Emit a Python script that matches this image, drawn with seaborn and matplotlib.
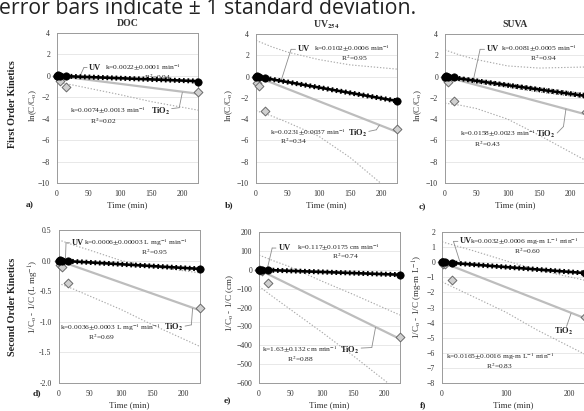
import numpy as np
import pandas as pd
import matplotlib
matplotlib.use("Agg")
import matplotlib.pyplot as plt
import seaborn as sns

# ---------------- data ----------------
t_uv = [0, 2, 5, 15, 225]
t_tio2 = [0, 2, 5, 15, 225]
fit_t = [0, 225]
band_t = [0, 25, 50, 100, 150, 225]

# First order kinetics  ln(C/Co)
fo_doc_uv = [0.0, 0.05, 0.02, -0.05, -0.55]
fo_doc_tio2 = [0.0, -0.1, -0.45, -1.0, -1.55]
fo_uv254_uv = [0.0, 0.05, 0.0, -0.1, -2.3]
fo_uv254_tio2 = [0.0, -0.6, -0.9, -3.2, -4.9]
fo_suva_uv = [0.0, 0.05, 0.0, -0.05, -1.75]
fo_suva_tio2 = [0.0, -0.2, -0.5, -2.25, -3.35]
fo_k_uv = [0.0022, 0.0102, 0.0081]
fo_k_tio2 = [0.0074, 0.0231, 0.0158]

# Second order kinetics  1/Co - 1/C
so_doc_uv = [0.0, 0.01, 0.0, -0.01, -0.13]
so_doc_tio2 = [0.0, -0.07, -0.1, -0.37, -0.78]
so_uv254_uv = [0.0, 0.0, 0.0, 0.0, -26.0]
so_uv254_tio2 = [0.0, -3.0, -5.0, -70.0, -355.0]
so_suva_uv = [0.0, 0.0, 0.0, -0.05, -0.72]
so_suva_tio2 = [0.0, -0.1, -0.15, -1.15, -3.6]
so_k_uv = [0.0006, 0.117, 0.0032]
so_k_tio2 = [0.0036, 1.63, 0.0165]

# dotted confidence bands (TiO2 fits)
band_a_up = None
band_a_lo = [-0.6, -0.85, -1.15, -1.75, -2.4, -3.2]
band_b_up = [3.4, 2.8, 2.3, 1.6, 1.1, 0.7]
band_b_lo = [-3.2, -3.7, -4.3, -5.6, -7.6, -11.3]
band_c_up = [2.5, 2.0, 1.6, 1.0, 0.8, 0.9]
band_c_lo = [-2.5, -2.7, -3.0, -4.0, -5.5, -7.9]
band_d_up = [0.34, 0.25, 0.17, 0.0, -0.1, -0.2]
band_d_lo = [-0.37, -0.47, -0.58, -0.8, -1.05, -1.4]
band_e_up = [78, 45, 15, -60, -130, -240]
band_e_lo = [-88, -150, -210, -330, -455, -650]
band_f_up = [1.35, 1.05, 0.75, 0.1, -0.5, -1.2]
band_f_lo = [-1.3, -1.8, -2.3, -3.3, -4.5, -6.1]
# UV-fit bands (panel c)
uvband_c_up = [0.15, -0.05, -0.25, -0.65, -1.05, -1.6]
uvband_c_lo = [-0.2, -0.4, -0.6, -1.0, -1.45, -2.0]

col_titles = ["DOC", r"UV$_{\mathbf{254}}$", "SUVA"]
row_titles = ["First Order Kinetics", "Second Order Kinetics"]
ylabels = [r"ln(C/C$_{\mathrm{o}}$)", r"ln(C/C$_{\mathrm{o}}$)", r"ln(C/C$_{\mathrm{o}}$)",
           r"1/C$_{\mathrm{o}}$ - 1/C (L mg$^{-1}$)", r"1/C$_{\mathrm{o}}$ - 1/C (cm)",
           r"1/C$_{\mathrm{o}}$ - 1/C (mg-m L$^{-1}$)"]
uv_k_texts = [r"k=0.0022$\pm$0.0001 min$^{-1}$", r"k=0.0102$\pm$0.0006 min$^{-1}$",
              r"k=0.0081$\pm$0.0005 min$^{-1}$",
              r"k=0.0006$\pm$0.00003 L mg$^{-1}$ min$^{-1}$",
              r"k=0.117$\pm$0.0175 cm min$^{-1}$",
              r"k=0.0032$\pm$0.0006 mg-m L$^{-1}$ min$^{-1}$"]
uv_r2 = ["R$^2$=0.94", "R$^2$=0.95", "R$^2$=0.94", "R$^2$=0.95", "R$^2$=0.74", "R$^2$=0.60"]
tio_k_texts = [r"k=0.0074$\pm$0.0013 min$^{-1}$", r"k=0.0231$\pm$0.0037 min$^{-1}$",
               r"k=0.0158$\pm$0.0023 min$^{-1}$",
               r"k=0.0036$\pm$0.0003 L mg$^{-1}$ min$^{-1}$",
               r"k=1.63$\pm$0.132 cm min$^{-1}$",
               r"k=0.0165$\pm$0.0016 mg-m L$^{-1}$ min$^{-1}$"]
tio_r2 = ["R$^2$=0.02", "R$^2$=0.34", "R$^2$=0.43", "R$^2$=0.69", "R$^2$=0.88", "R$^2$=0.83"]
letters = ["a)", "b)", "c)", "d)", "e)", "f)"]

# ---------------- style ----------------
sns.set_theme(style="white")
plt.rcParams["font.family"] = ["Liberation Serif", "DejaVu Serif"]
plt.rcParams["mathtext.fontset"] = "stix"

W, H = 584, 411
fig = plt.figure(figsize=(W / 100, H / 100), dpi=100)


def px(x, y):
    return x / W, 1 - y / H


def rect(l, t, r, b):
    return [l / W, 1 - b / H, (r - l) / W, (b - t) / H]


GREY_LINE = "#bdbdbd"
BAND = "#a9a9a9"

panels = [
    dict(rect=rect(57, 33, 198, 183), ylim=(-10, 4), yticks=np.arange(-10, 5, 2),
         uv=fo_doc_uv, tio=fo_doc_tio2, kuv=fo_k_uv[0], ktio=fo_k_tio2[0],
         up=band_a_up, lo=band_a_lo, uvup=None, uvlo=None, xticks=[0, 50, 100, 150, 200]),
    dict(rect=rect(256, 34, 397, 183), ylim=(-10, 4), yticks=np.arange(-10, 5, 2),
         uv=fo_uv254_uv, tio=fo_uv254_tio2, kuv=fo_k_uv[1], ktio=fo_k_tio2[1],
         up=band_b_up, lo=band_b_lo, uvup=None, uvlo=None, xticks=[0, 50, 100, 150, 200]),
    dict(rect=rect(445, 34, 586, 183), ylim=(-10, 4), yticks=np.arange(-10, 5, 2),
         uv=fo_suva_uv, tio=fo_suva_tio2, kuv=fo_k_uv[2], ktio=fo_k_tio2[2],
         up=band_c_up, lo=band_c_lo, uvup=uvband_c_up, uvlo=uvband_c_lo,
         xticks=[0, 50, 100, 150, 200]),
    dict(rect=rect(58.5, 230, 199.5, 383), ylim=(-2.0, 0.5), yticks=np.arange(-2.0, 0.51, 0.5),
         uv=so_doc_uv, tio=so_doc_tio2, kuv=so_k_uv[0], ktio=so_k_tio2[0],
         up=band_d_up, lo=band_d_lo, uvup=None, uvlo=None, xticks=[0, 50, 100, 150, 200]),
    dict(rect=rect(259, 232, 400, 383), ylim=(-600, 200), yticks=np.arange(-600, 201, 100),
         uv=so_uv254_uv, tio=so_uv254_tio2, kuv=so_k_uv[1], ktio=so_k_tio2[1],
         up=band_e_up, lo=band_e_lo, uvup=None, uvlo=None, xticks=[0, 50, 100, 150, 200]),
    dict(rect=rect(442, 232, 585, 383), ylim=(-8, 2), yticks=np.arange(-8, 3, 1),
         uv=so_suva_uv, tio=so_suva_tio2, kuv=so_k_uv[2], ktio=so_k_tio2[2],
         up=band_f_up, lo=band_f_lo, uvup=None, uvlo=None, xticks=[0, 100, 200]),
]

# annotation layout (data coordinates); TiO2 label anchored at its right end
ann = [
    dict(uv=(51, 0.78), k=(76, 0.78), r2=(160, -0.16), uvlead=[(48, 0.78), (43, 0.78), (36, -0.1)],
         tk=(21, -3.3), ttio=(181, -3.3), tr2=(74, -4.2), tlead=[(183, -3.06), (195, -2.97), (200, -1.55)]),
    dict(uv=(67, 2.56), k=(92, 2.56), r2=(157, 1.72), uvlead=[(63, 2.56), (56, 2.56), (40, -0.4)],
         tk=(22, -5.3), ttio=(178, -5.3), tr2=(60, -6.1), tlead=[(180, -5.15), (192, -5.0), (197, -4.55)]),
    dict(uv=(67, 2.56), k=(90, 2.56), r2=(158, 1.72), uvlead=[(63, 2.56), (56, 2.56), (45, -0.38)],
         tk=(24, -5.4), ttio=(177, -5.4), tr2=(68, -6.4), tlead=[(179, -5.3), (189, -4.7), (193, -3.05)]),
    dict(uv=(21, 0.29), k=(40, 0.29), r2=(153, 0.13), uvlead=[(18, 0.29), (12, 0.29), (11, -0.01)],
         tk=(3, -1.09), ttio=(200, -1.09), tr2=(69, -1.25), tlead=[(202, -1.07), (212, -1.05), (214, -0.78)]),
    dict(uv=(31, 115), k=(60, 115), r2=(138, 71), uvlead=[(27, 115), (21, 115), (13, 2)],
         tk=(4, -427), ttio=(161, -427), tr2=(67, -473), tlead=[(163, -415), (180, -412), (186, -305)]),
    dict(uv=(28, 1.38), k=(44, 1.38), r2=(135, 0.71), uvlead=[(25, 1.38), (18, 1.38), (28, 0.05)],
         tk=(7, -6.27), ttio=(207, -4.55), tr2=(91, -6.9), tlead=[(196, -4.25), (203, -3.4)]),
]


def leader(ax, pts):
    for (x0, y0), (x1, y1) in zip(pts[:-1], pts[1:]):
        ax.annotate("", xy=(x1, y1), xytext=(x0, y0),
                    arrowprops=dict(arrowstyle="-", color="#8c8c8c", lw=0.6,
                                    shrinkA=0, shrinkB=0))


FS = 5.4
for i, p in enumerate(panels):
    ax = fig.add_axes(p["rect"])
    ax.set_xlim(0, 225)
    ax.set_ylim(*p["ylim"])
    ax.set_yticks(p["yticks"])
    ax.set_xticks(p["xticks"])
    for yv in p["yticks"][1:-1]:
        ax.axhline(yv, color="#e4e4e4", lw=0.6, zorder=0)

    # bands
    for band in (p["up"], p["lo"]):
        if band is not None:
            sns.lineplot(x=band_t, y=band, ax=ax, color=BAND, lw=0.8,
                         linestyle=(0, (1.2, 1.6)), zorder=2)
    for band in (p["uvup"], p["uvlo"]):
        if band is not None:
            sns.lineplot(x=band_t, y=band, ax=ax, color="#555555", lw=0.7,
                         linestyle=(0, (1.0, 1.5)), zorder=2)

    fit_df = pd.DataFrame({"t": fit_t,
                           "uv": [-p["kuv"] * t for t in fit_t],
                           "tio": [-p["ktio"] * t for t in fit_t]})
    sns.lineplot(data=fit_df, x="t", y="tio", ax=ax, color=GREY_LINE, lw=1.6, zorder=3)
    sns.lineplot(data=fit_df, x="t", y="uv", ax=ax, color="black", lw=1.9, zorder=4)
    sns.lineplot(data=fit_df, x="t", y="uv", ax=ax, color="black", lw=3.6,
                 linestyle=(0, (0.35, 0.55)), dash_capstyle="butt", zorder=4)

    sns.scatterplot(x=t_tio2, y=p["tio"], ax=ax, marker="D", s=20, color="#d0d0d0",
                    edgecolor="#6a6a6a", linewidth=0.7, zorder=5, clip_on=False)
    sns.scatterplot(x=t_uv, y=p["uv"], ax=ax, marker="o", s=28, color="black",
                    edgecolor="black", linewidth=0.5, zorder=6, clip_on=False)

    # annotations
    a = ann[i]
    ax.text(*a["uv"], "UV", fontsize=FS + 0.6, fontweight="bold", va="center", ha="left", color="#222")
    ax.text(*a["k"], uv_k_texts[i], fontsize=FS, va="center", ha="left", color="#222")
    ax.text(*a["r2"], uv_r2[i], fontsize=FS, va="center", ha="center", color="#222")
    leader(ax, a["uvlead"])
    ax.text(*a["tk"], tio_k_texts[i], fontsize=FS, va="center", ha="left", color="#222")
    ax.text(*a["ttio"], r"TiO$_\mathbf{2}$", fontsize=FS + 0.6, fontweight="bold",
            va="center", ha="right", color="#222")
    ax.text(*a["tr2"], tio_r2[i], fontsize=FS, va="center", ha="center", color="#222")
    leader(ax, a["tlead"])

    # axes styling
    for s in ax.spines.values():
        s.set_color("#9a9a9a")
        s.set_linewidth(0.7)
    ax.tick_params(axis="both", labelsize=5.6, colors="#9a9a9a", labelcolor="#333",
                   length=2.5, width=0.6, pad=2.5, direction="out")
    if i == 3:
        ax.set_yticklabels([f"{v:.1f}" for v in p["yticks"]])
    ax.set_xlabel("Time (min)", fontsize=6.5, color="#333", labelpad=2)
    ax.set_ylabel("")
    if i < 3:
        ax.set_title(col_titles[i], fontsize=7, fontweight="bold", color="#333", pad=5)

# y labels
ylab_pos = [(33, 106), (229, 106), (418, 106), (34, 297), (230, 303), (418, 297)]
for lab, (x, y) in zip(ylabels, ylab_pos):
    fig.text(*px(x, y), lab, rotation=90, ha="center", va="center", fontsize=6.5, color="#333")

# row labels
fig.text(*px(13, 104), row_titles[0], rotation=90, ha="center", va="center",
         fontsize=7.3, fontweight="bold", color="#222")
fig.text(*px(13, 307), row_titles[1], rotation=90, ha="center", va="center",
         fontsize=7.3, fontweight="bold", color="#222")

# panel letters
let_pos = [(30, 205), (229, 205), (422, 207), (37, 393), (227, 401), (423, 405)]
for lab, (x, y) in zip(letters, let_pos):
    fig.text(*px(x, y), lab, ha="center", va="center", fontsize=6.8, fontweight="bold", color="#222")

# cropped caption at the top
fig.text(*px(-1, 14), "error bars indicate \u00b1 1 standard deviation.", ha="left",
         va="baseline", fontsize=15.3, family=["Open Sans", "DejaVu Sans"], color="#222")

fig.savefig("out.png", dpi=100)
